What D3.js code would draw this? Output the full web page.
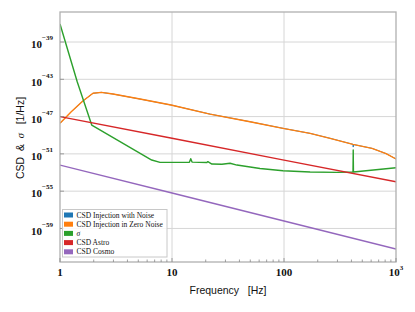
<!DOCTYPE html>
<html><head><meta charset="utf-8">
<script src="https://cdn.jsdelivr.net/npm/d3@7"></script>
<style>
html,body{margin:0;padding:0;background:#fff;}
svg{display:block;}
text{white-space:pre;}
</style></head>
<body>
<svg id="chart" width="415" height="312"></svg>
<script>
// ---- data (values stored as log10 of CSD in 1/Hz) ----
const seriesNames = ["CSD Injection with Noise","CSD Injection in Zero Noise","\u03c3","CSD Astro","CSD Cosmo"];
const seriesColors = ["#1f77b4","#ff7f0e","#2ca02c","#d62728","#9467bd"];

const blueFreq = [1,1.26,1.60,1.97,2.34,2.97,5.18,9.8,21.8,49.7,98,171,258,411,415,419,611,815,1000];
const blueLog  = [-47.72,-46.48,-45.33,-44.50,-44.40,-44.58,-45.12,-45.76,-46.73,-47.55,-48.26,-48.80,-49.33,-49.97,-50.27,-50.00,-50.41,-50.97,-51.55];

const orangeFreq = [1,1.26,1.60,1.97,2.34,2.97,5.18,9.8,21.8,49.7,98,171,258,413,611,815,1000];
const orangeLog  = [-47.72,-46.48,-45.33,-44.50,-44.40,-44.58,-45.12,-45.76,-46.73,-47.55,-48.26,-48.80,-49.33,-49.98,-50.41,-50.97,-51.55];

const greenFreq = [1,1.427,1.92,6.59,7.82,10.6,14.3,14.7,15.1,20.5,20.9,22.7,27.9,33.0,38.0,61.1,98,171,297,413,415,417,1000];
const greenLog  = [-37.07,-43.29,-47.91,-51.66,-51.91,-51.91,-51.90,-51.52,-51.88,-51.93,-51.83,-52.09,-52.12,-52.01,-52.20,-52.57,-52.81,-52.95,-52.98,-52.95,-50.59,-52.95,-52.49];

const redFreq = [1,10,100,1000];
const redLog  = [-47.0,-49.33,-51.67,-54.0];

const purpleFreq = [1,10,100,1000];
const purpleLog  = [-52.2,-55.2,-58.2,-61.2];

const xTickVals = [1,10,100,1000];
const xTickBase = ["1","10","100","10"];
const xTickSup  = ["","","","3"];
const yTickExps = [-39,-43,-47,-51,-55,-59];

// ---- layout ----
const L=60, R=396, T=12, B=262;
const svg = d3.select("#chart");
const x = d3.scaleLog().domain([1,1000]).range([L,R]);
const y = d3.scaleLog().domain([Math.pow(10,-62.6),Math.pow(10,-35.78)]).range([B,T]);

// grid
const g = svg.append("g");
g.selectAll("line.hg").data(yTickExps).enter().append("line")
  .attr("x1",L).attr("x2",R)
  .attr("y1",d=>y(Math.pow(10,d))).attr("y2",d=>y(Math.pow(10,d)))
  .attr("stroke","#d6d6d6").attr("stroke-width",1);
g.selectAll("line.vg").data([10,100]).enter().append("line")
  .attr("y1",T).attr("y2",B)
  .attr("x1",d=>x(d)).attr("x2",d=>x(d))
  .attr("stroke","#d6d6d6").attr("stroke-width",1);

// series
const series = [
  {f:blueFreq, v:blueLog, w:0.9},
  {f:orangeFreq, v:orangeLog, w:1.4},
  {f:greenFreq, v:greenLog, w:1.4},
  {f:redFreq, v:redLog, w:1.4},
  {f:purpleFreq, v:purpleLog, w:1.4}
];
const line = d3.line().x(d=>x(d[0])).y(d=>y(Math.pow(10,d[1])));
const clip = svg.append("clipPath").attr("id","clp").append("rect")
  .attr("x",L).attr("y",T).attr("width",R-L).attr("height",B-T);
series.forEach((s,i)=>{
  const pts = s.f.map((f,j)=>[f,s.v[j]]);
  svg.append("path").attr("d",line(pts)).attr("fill","none")
    .attr("stroke",seriesColors[i]).attr("stroke-width",s.w)
    .attr("stroke-linejoin","round")
    .attr("clip-path","url(#clp)");
});

// frame
svg.append("rect").attr("x",L).attr("y",T).attr("width",R-L).attr("height",B-T)
  .attr("fill","none").attr("stroke","#b0b0b0").attr("stroke-width",1.3);

// x ticks (inward)
const minor = [];
[1,10,100].forEach(d=>{for(let k=2;k<=9;k++) minor.push(d*k);});
svg.selectAll("line.xmin").data(minor).enter().append("line")
  .attr("x1",d=>x(d)).attr("x2",d=>x(d)).attr("y1",B).attr("y2",B-2.5)
  .attr("stroke","#888").attr("stroke-width",0.8);
svg.selectAll("line.xmaj").data(xTickVals).enter().append("line")
  .attr("x1",d=>x(d)).attr("x2",d=>x(d)).attr("y1",B).attr("y2",B-4)
  .attr("stroke","#888").attr("stroke-width",0.8);

const tickFont = "'Liberation Serif','Times New Roman',serif";
xTickVals.forEach((d,i)=>{
  const t = svg.append("text").attr("x",x(d)).attr("y",276)
    .attr("text-anchor","middle").attr("font-family",tickFont)
    .attr("font-weight","bold").attr("font-size",11).attr("fill","#111");
  t.append("tspan").text(xTickBase[i]);
  if(xTickSup[i]) t.append("tspan").attr("font-size",7).attr("dy",-6).text(xTickSup[i]);
});

// y ticks
svg.selectAll("line.ymaj").data(yTickExps).enter().append("line")
  .attr("x1",L).attr("x2",L+4)
  .attr("y1",d=>y(Math.pow(10,d))).attr("y2",d=>y(Math.pow(10,d)))
  .attr("stroke","#888").attr("stroke-width",0.8);
yTickExps.forEach(e=>{
  const yy = y(Math.pow(10,e));
  const t = svg.append("text").attr("x",53).attr("y",yy+6.3)
    .attr("text-anchor","end").attr("font-family",tickFont)
    .attr("font-weight","bold").attr("font-size",11).attr("fill","#111");
  t.append("tspan").text("10");
  t.append("tspan").attr("font-size",7).attr("dy",-8).text("\u2212"+Math.abs(e));
});

// axis labels
const labFont = "'Liberation Sans',Arial,sans-serif";
svg.append("text").attr("x",228).attr("y",294).attr("text-anchor","middle")
  .attr("font-family",labFont).attr("font-size",10.5).attr("fill","#111")
  .text("Frequency   [Hz]");
const yl = svg.append("text").attr("transform","translate(24,138) rotate(-90)")
  .attr("text-anchor","middle").attr("font-family",labFont)
  .attr("font-size",10.5).attr("fill","#111");
yl.append("tspan").text("CSD  &  ");
yl.append("tspan").attr("font-family",tickFont).attr("font-style","italic").text("\u03c3");
yl.append("tspan").text("   [1/Hz]");

// legend
const lg = svg.append("g");
lg.append("rect").attr("x",62.5).attr("y",209.5).attr("width",104.5).attr("height",47.5)
  .attr("fill","#fff").attr("fill-opacity",0.85).attr("stroke","#c8c8c8").attr("stroke-width",1);
seriesNames.forEach((n,i)=>{
  const cy = 215 + i*9.2;
  lg.append("rect").attr("x",64).attr("y",cy-2.5).attr("width",9).attr("height",5)
    .attr("fill",seriesColors[i]);
  const t = lg.append("text").attr("x",76.5).attr("y",cy+2.6)
    .attr("font-family",tickFont).attr("font-size",7.5).attr("fill","#111");
  if(i===2) t.attr("font-style","italic");
  t.text(n);
});
</script>
</body></html>
